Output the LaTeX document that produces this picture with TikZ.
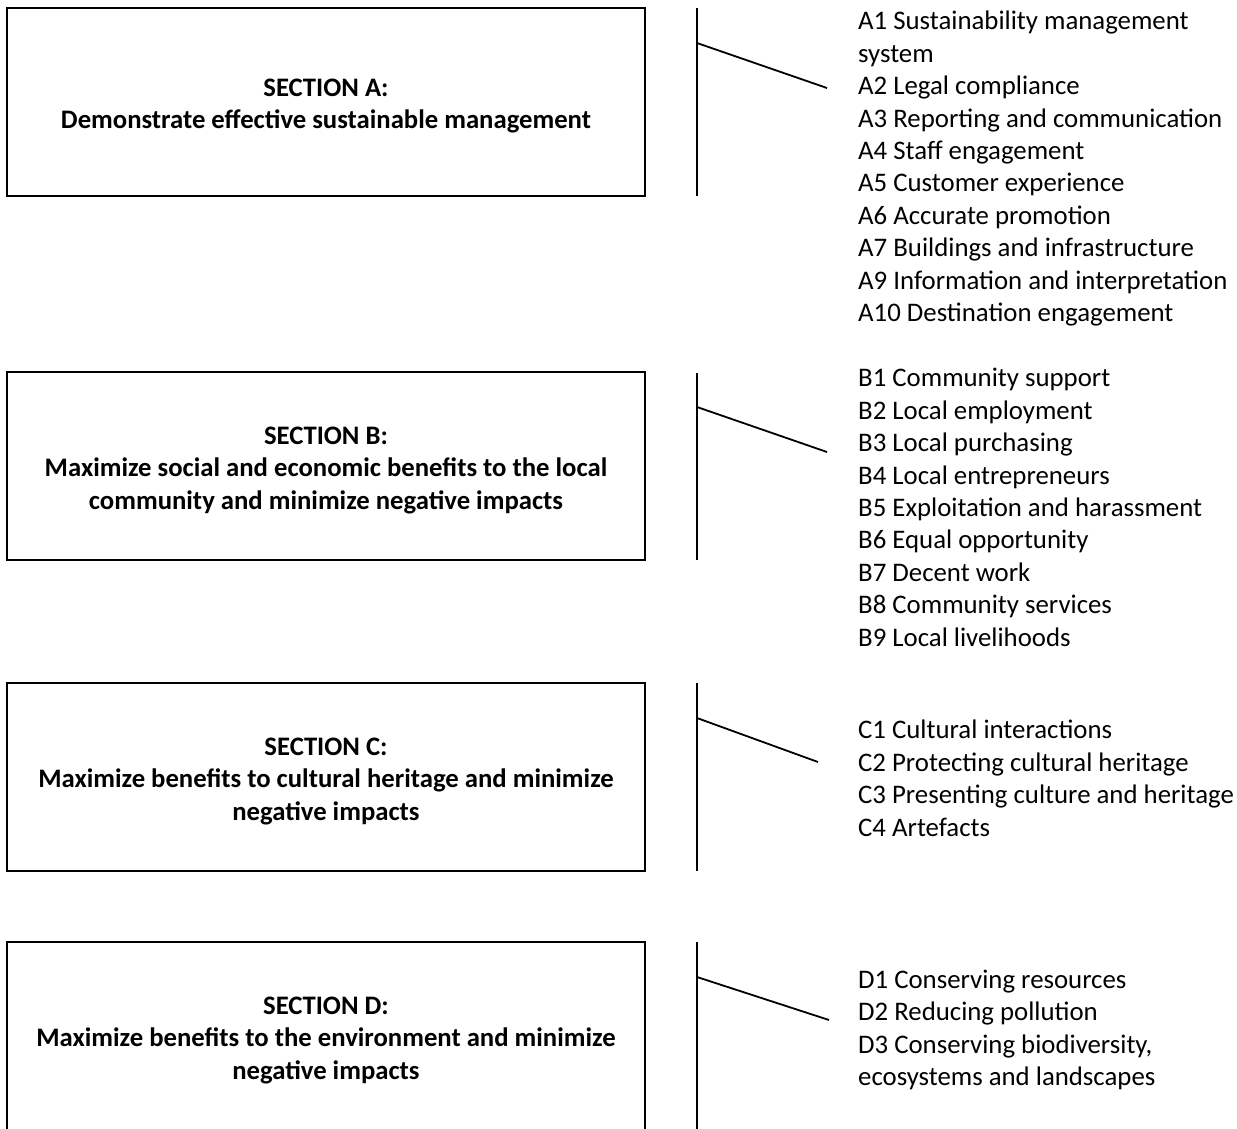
\documentclass[tikz,border=0pt]{standalone}
\usepackage{fontspec}
\setmainfont{Carlito}
\newcommand{\topgap}{\rule{0pt}{26pt}}
\tikzset{
  secbox/.style={draw, line width=1.8pt, minimum width=638pt, minimum height=188pt,
    inner sep=0pt, align=center, font=\bfseries\fontsize{26.7}{32.4}\selectfont},
  itemlist/.style={anchor=north west, inner sep=0pt, align=left,
    font=\fontsize{26.8}{32.4}\selectfont},
  bar/.style={line width=1.8pt}
}
\begin{document}
\begin{tikzpicture}[x=1pt,y=-1pt]
\useasboundingbox (0,0) rectangle (1237,1128);

% section boxes
\node[secbox] (secA) at (326,102) {\topgap SECTION A:\\Demonstrate effective sustainable management};
\node[secbox] (secB) at (326,466) {\topgap SECTION B:\\Maximize social and economic benefits to the local\\community and minimize negative impacts};
\node[secbox] (secC) at (326,777) {\topgap SECTION C:\\Maximize benefits to cultural heritage and minimize\\negative impacts};
\node[secbox] (secD) at (326,1036) {\topgap SECTION D:\\Maximize benefits to the environment and minimize\\negative impacts};

% criteria lists
\node[itemlist] (listA) at (858,7) {\strut A1 Sustainability management\\system\\A2 Legal compliance\\A3 Reporting and communication\\A4 Staff engagement\\A5 Customer experience\\A6 Accurate promotion\\A7 Buildings and infrastructure\\A9 Information and interpretation\\A10 Destination engagement};
\node[itemlist] (listB) at (858,364) {\strut B1 Community support\\B2 Local employment\\B3 Local purchasing\\B4 Local entrepreneurs\\B5 Exploitation and harassment\\B6 Equal opportunity\\B7 Decent work\\B8 Community services\\B9 Local livelihoods};
\node[itemlist] (listC) at (858,716) {\strut C1 Cultural interactions\\C2 Protecting cultural heritage\\C3 Presenting culture and heritage\\C4 Artefacts};
\node[itemlist] (listD) at (858,965.6) {\strut D1 Conserving resources\\D2 Reducing pollution\\D3 Conserving biodiversity,\\ecosystems and landscapes};

% brackets
\coordinate (topA) at (697,8);   \coordinate (botA) at (697,196);
\coordinate (kneeA) at (697,43); \coordinate (tipA) at (827,88);
\coordinate (topB) at (697,373); \coordinate (botB) at (697,560);
\coordinate (kneeB) at (697,407); \coordinate (tipB) at (827,452);
\coordinate (topC) at (697,683); \coordinate (botC) at (697,871);
\coordinate (kneeC) at (697,718); \coordinate (tipC) at (818,762);
\coordinate (topD) at (697,942); \coordinate (botD) at (697,1130);
\coordinate (kneeD) at (697,977); \coordinate (tipD) at (829,1020);

\foreach \s in {A,B,C,D} {
  \draw[bar] (top\s) -- (bot\s);
  \draw[bar] (knee\s) -- (tip\s);
}
\end{tikzpicture}
\end{document}
